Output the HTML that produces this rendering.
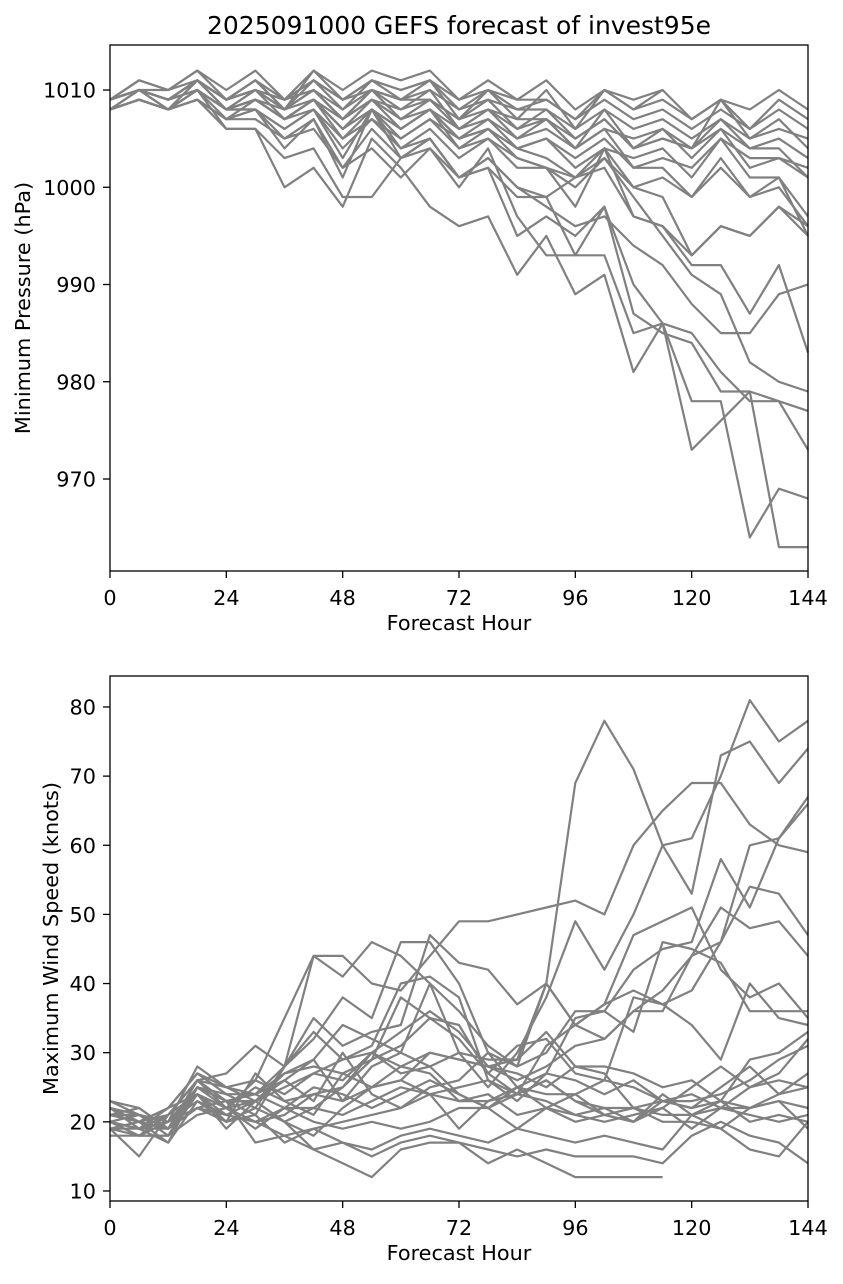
<!DOCTYPE html>
<html><head><meta charset="utf-8">
<style>
html,body{margin:0;padding:0;background:#fff;}
svg text{font-family:"DejaVu Sans","Liberation Sans",sans-serif;fill:#000;}
</style></head>
<body>
<svg id="chart" width="843" height="1279" xmlns="http://www.w3.org/2000/svg">
<text x="459" y="34" font-size="25" text-anchor="middle">2025091000 GEFS forecast of invest95e</text>
<g id="top"></g>
<g id="bot"></g>
</svg>
<script>
const hours = [0,6,12,18,24,30,36,42,48,54,60,66,72,78,84,90,96,102,108,114,120,126,132,138,144];
const xTicks = [0,24,48,72,96,120,144];
const pTicks = [970,980,990,1000,1010];
const wTicks = [10,20,30,40,50,60,70,80];
const pressureSeries = [
[1009,1010,1009,1011,1009,1010,1009,1011,1009,1010,1009,1010,1008,1009,1008,1008,1006,1008,1006,1007,1005,1007,1005,1006,1005],
[1008,1009,1008,1010,1008,1009,1008,1010,1007,1009,1008,1009,1007,1008,1007,1007,1005,1007,1004,1005,1004,1006,1004,1005,1003],
[1009,1011,1010,1012,1010,1012,1009,1012,1010,1012,1011,1012,1009,1011,1009,1011,1008,1010,1009,1010,1007,1009,1008,1010,1008],
[1008,1010,1009,1011,1009,1011,1008,1011,1008,1011,1010,1011,1008,1010,1008,1009,1007,1009,1007,1008,1006,1008,1006,1008,1006],
[1009,1010,1009,1010,1008,1009,1007,1009,1006,1009,1007,1008,1006,1007,1005,1006,1004,1006,1005,1006,1003,1006,1002,1003,1001],
[1008,1009,1008,1009,1007,1008,1006,1008,1004,1007,1005,1007,1005,1006,1004,1005,1002,1004,1003,1004,1001,1005,1001,1001,997],
[1009,1010,1008,1010,1008,1008,1006,1008,1003,1008,1004,1006,1003,1005,1002,1002,1000,1003,1000,1001,999,1003,999,1001,995],
[1008,1009,1008,1009,1007,1007,1005,1006,1002,1006,1003,1005,1001,1003,1000,999,1001,1002,997,996,993,996,995,998,996],
[1008,1009,1008,1009,1006,1006,1003,1004,999,999,1003,1004,1000,1004,997,993,993,998,987,985,984,979,979,978,977],
[1008,1010,1008,1011,1008,1008,1005,1007,1001,1008,1003,1005,1001,1002,995,997,995,998,990,986,978,978,964,969,968],
[1008,1009,1008,1010,1006,1006,1000,1002,998,1005,1002,998,996,997,991,995,989,991,981,986,973,976,979,963,963],
[1008,1009,1008,1009,1007,1008,1004,1007,1002,1004,1001,1004,1001,1002,999,999,993,993,985,986,985,981,978,978,973],
[1009,1010,1009,1010,1008,1009,1007,1008,1005,1007,1004,1005,1001,1003,1000,998,996,997,994,992,988,985,985,989,990],
[1009,1010,1009,1011,1009,1010,1008,1009,1006,1008,1005,1007,1004,1005,1003,1002,1001,1003,999,995,991,989,982,980,979],
[1009,1010,1010,1011,1009,1010,1008,1010,1007,1009,1006,1008,1005,1007,1004,1003,1001,1004,997,996,992,992,987,992,983],
[1008,1009,1008,1010,1008,1009,1007,1009,1006,1008,1006,1008,1005,1006,1003,1002,998,1004,1000,999,993,996,995,998,995],
[1009,1010,1009,1011,1009,1010,1009,1010,1007,1010,1008,1010,1006,1008,1006,1007,1004,1006,1002,1003,1002,1005,1003,1003,1002],
[1009,1011,1010,1012,1009,1011,1008,1012,1009,1011,1009,1011,1007,1010,1007,1010,1006,1010,1008,1010,null,null,null,null,null],
[1008,1009,1008,1010,1007,1009,1007,1009,1005,1008,1006,1008,1004,1006,1004,1005,1003,1005,1002,1002,999,1002,999,1000,996],
[1009,1010,1009,1010,1008,1010,1008,1010,1008,1010,1009,1009,1007,1009,1006,1008,1005,1007,1004,1006,1004,1009,1006,1009,1007],
[1008,1010,1008,1011,1008,1010,1007,1009,1007,1010,1007,1009,1006,1008,1005,1007,1004,1008,1004,1005,1004,1007,1004,1004,1001],
[1009,1010,1009,1011,1009,1011,1009,1011,1009,1011,1010,1011,1009,1010,1009,1009,1007,1010,1008,1009,1007,1009,1005,1007,1004]
];
const windSeries = [
[21,22,19,26,27,31,28,35,31,33,34,47,43,42,37,40,34,37,39,37,39,46,54,53,47],
[22,20,22,27,24,22,28,44,41,46,44,40,30,25,30,38,49,42,50,60,53,73,75,69,74],
[20,18,18,25,22,26,35,44,44,40,39,44,49,49,50,51,52,50,60,65,69,69,63,60,59],
[19,19,20,25,23,24,28,32,38,35,46,46,40,30,28,40,69,78,71,60,61,70,81,75,78],
[21,20,19,26,23,21,28,33,29,31,40,41,38,26,23,27,35,36,42,45,46,58,51,61,67],
[20,19,19,24,22,23,25,27,26,30,33,36,33,28,26,28,31,32,36,36,44,46,60,61,66],
[20,19,21,26,22,25,23,24,25,29,31,35,34,27,24,31,34,32,36,39,44,51,48,49,44],
[22,21,20,23,21,23,27,29,23,28,30,28,30,29,29,40,34,37,47,49,51,42,38,40,35],
[19,15,21,26,23,17,18,16,14,12,16,17,17,14,16,14,12,12,12,12,null,null,null,null,null],
[20,18,18,21,22,20,18,19,17,15,17,18,17,16,15,16,15,15,15,14,18,20,18,17,14],
[22,19,17,23,20,22,20,16,17,16,18,19,18,17,19,18,17,18,17,16,21,19,16,15,20],
[19,20,19,22,21,20,22,20,19,20,19,20,22,22,19,22,20,21,20,23,22,23,22,23,22],
[21,20,22,24,22,19,22,25,24,22,24,26,24,22,24,26,23,22,22,20,20,19,22,23,19],
[23,22,19,25,24,24,27,28,27,25,26,30,29,28,27,25,28,28,27,25,26,23,29,30,33],
[20,19,22,27,25,26,24,27,29,30,28,30,29,28,29,33,28,27,22,21,21,22,22,24,25],
[18,18,20,22,23,24,22,22,21,23,25,24,23,23,24,26,23,21,22,23,22,25,28,24,27],
[21,21,18,24,21,20,21,24,23,25,26,24,25,26,24,23,21,22,20,22,25,28,25,27,32],
[22,20,17,25,23,23,20,18,22,25,28,27,23,24,21,22,24,21,20,24,21,23,20,21,20],
[20,21,20,28,25,24,26,23,30,24,22,25,26,30,25,27,26,24,26,23,23,24,26,29,31],
[19,18,21,24,20,27,23,21,27,29,38,35,32,27,31,32,27,26,38,37,34,29,40,35,34],
[21,20,21,26,25,23,26,29,34,32,30,40,36,31,28,30,36,36,33,46,45,43,36,36,36],
[20,21,19,22,20,21,17,19,20,21,22,24,19,23,25,22,21,20,21,22,19,22,21,20,21],
[23,21,20,24,19,23,20,22,25,30,27,28,24,22,25,24,24,26,25,23,24,22,25,26,25]
];
const NS="http://www.w3.org/2000/svg";
function mk(parent,tag,attrs){const e=document.createElementNS(NS,tag);for(const k in attrs)e.setAttribute(k,attrs[k]);parent.appendChild(e);return e;}
function panel(g,box,yMin,yMax,yTicks,series,yTitle,prefix){
  const xs=h=>box.l+(h-0)/(144-0)*(box.r-box.l);
  const ys=v=>box.b-(v-yMin)/(yMax-yMin)*(box.b-box.t);
  series.forEach((s,i)=>{
    let d="";let pen=false;
    s.forEach((v,j)=>{if(v===null){pen=false;return;}d+=(pen?"L":"M")+xs(hours[j]).toFixed(1)+","+ys(v).toFixed(1);pen=true;});
    const p=mk(g,"path",{d:d,fill:"none",stroke:"#808080","stroke-width":"2.2","stroke-linejoin":"round"});
    
    
  });
  const fr=mk(g,"rect",{x:box.l,y:box.t,width:box.r-box.l,height:box.b-box.t,fill:"none",stroke:"#000","stroke-width":"1.3"});
  
  
  xTicks.forEach(t=>{
    mk(g,"line",{x1:xs(t),x2:xs(t),y1:box.b,y2:box.b+7,stroke:"#000","stroke-width":"1.3"});
    const tx=mk(g,"text",{x:xs(t),y:box.b+34,"font-size":"20.8","text-anchor":"middle"});tx.textContent=t;
    
    
  });
  yTicks.forEach(t=>{
    mk(g,"line",{x1:box.l-7,x2:box.l,y1:ys(t),y2:ys(t),stroke:"#000","stroke-width":"1.3"});
    const tx=mk(g,"text",{x:box.l-14,y:ys(t)+7.5,"font-size":"20.8","text-anchor":"end"});tx.textContent=t;
    
    
  });
  const xl=mk(g,"text",{x:(box.l+box.r)/2,y:box.b+59,"font-size":"20.8","text-anchor":"middle"});xl.textContent="Forecast Hour";
  
  
  const cy=(box.t+box.b)/2;
  const yl=mk(g,"text",{x:0,y:0,"font-size":"20.8","text-anchor":"middle",transform:"translate("+(prefix==="pressure"?30:58)+","+cy+") rotate(-90)"});yl.textContent=yTitle;
  
  
}
panel(document.getElementById("top"),{l:110,r:808,t:45,b:571},960.54,1014.63,pTicks,pressureSeries,"Minimum Pressure (hPa)","pressure");
panel(document.getElementById("bot"),{l:110,r:808,t:676,b:1201},8.55,84.48,wTicks,windSeries,"Maximum Wind Speed (knots)","wind");
</script>
</body></html>
